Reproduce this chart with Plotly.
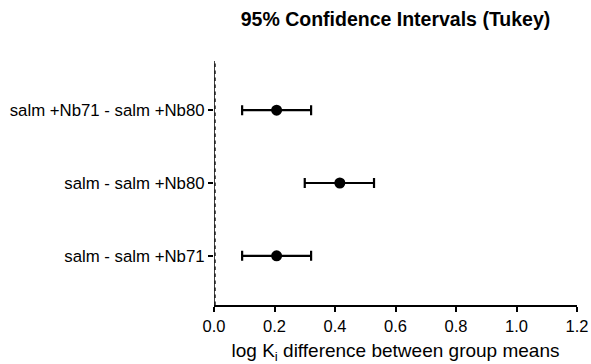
import plotly.graph_objects as go

comparisons = ["salm - salm +Nb71", "salm - salm +Nb80", "salm +Nb71 - salm +Nb80"]
mean_diff = [0.207, 0.416, 0.207]
ci_low = [0.093, 0.300, 0.093]
ci_high = [0.321, 0.529, 0.321]
x_ticks = [0.0, 0.2, 0.4, 0.6, 0.8, 1.0, 1.2]

ypos = list(range(len(comparisons)))
err_plus = [h - m for h, m in zip(ci_high, mean_diff)]
err_minus = [m - l for m, l in zip(mean_diff, ci_low)]

FONT = "Liberation Sans, Arial, Helvetica, sans-serif"

fig = go.Figure()
fig.add_trace(go.Scatter(
    x=mean_diff, y=ypos, mode="markers",
    marker=dict(color="black", size=11),
    error_x=dict(type="data", array=err_plus, arrayminus=err_minus,
                 color="black", thickness=2.2, width=5),
    showlegend=False, cliponaxis=False,
))

# zero reference line (dotted)
fig.add_shape(type="line", xref="x", yref="paper", x0=0, x1=0, y0=0, y1=1,
              line=dict(color="black", width=1.5))
fig.add_shape(type="line", xref="x", yref="paper", x0=0, x1=0, y0=0, y1=1,
              line=dict(color="#222222", width=3.5, dash="dot"))

fig.update_layout(
    width=591, height=364,
    margin=dict(l=214, r=14, t=61, b=59, autoexpand=False),
    paper_bgcolor="white", plot_bgcolor="white",
    font=dict(family=FONT, color="black", size=17),
    title=dict(text="<b>95% Confidence Intervals (Tukey)</b>",
               x=(214 + 577) / 2 / 591, xanchor="center", y=1 - 19 / 364, yanchor="middle",
               font=dict(size=19.5, family=FONT, color="black")),
    xaxis=dict(range=[0, 1.2], tickvals=x_ticks, automargin=False,
               ticktext=[f"{v:.1f}" for v in x_ticks],
               showline=True, linecolor="black", linewidth=1.5,
               ticks="outside", ticklen=5, tickwidth=1.5, tickcolor="black",
               showgrid=False, zeroline=False,
               tickfont=dict(size=16.5, family=FONT),
               title=dict(text="log K<sub>i</sub> difference between group means",
                          font=dict(size=19, family=FONT), standoff=11)),
    yaxis=dict(range=[-0.676, 2.676], tickvals=ypos, ticktext=comparisons, automargin=False,
               showline=False, ticks="outside", ticklen=5, tickwidth=1.5,
               tickcolor="black", showgrid=False, zeroline=False,
               tickfont=dict(size=16.8, family=FONT)),
)

fig.write_html("out.html")
